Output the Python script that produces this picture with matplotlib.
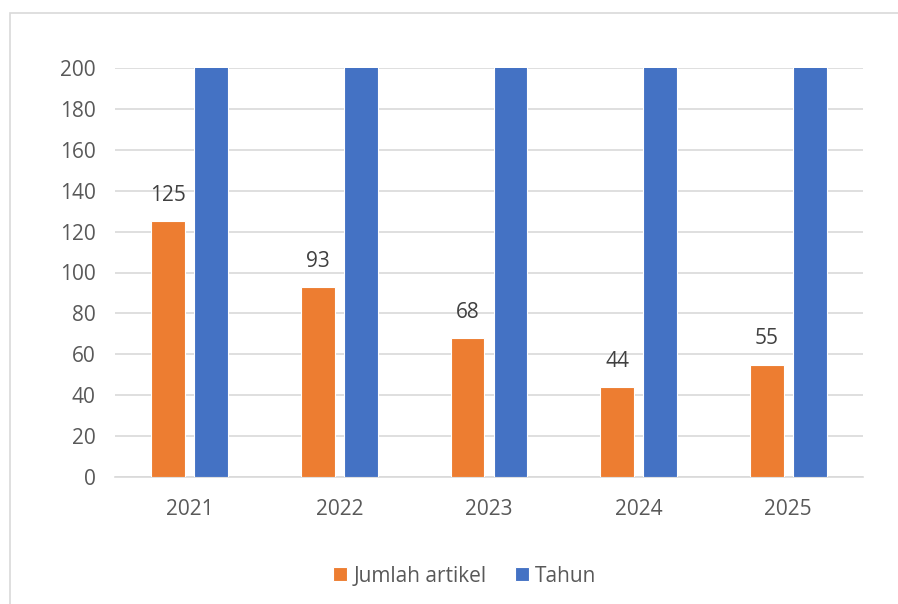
import numpy as np
import matplotlib.pyplot as plt
from matplotlib.patches import Rectangle

years = ["2021", "2022", "2023", "2024", "2025"]
jumlah_artikel = [125, 93, 68, 44, 55]
tahun = [2021, 2022, 2023, 2024, 2025]

orange = "#ED7D31"
blue = "#4472C4"
text_grey = "#595959"
grid_grey = "#D9D9D9"

plt.rcParams['font.family'] = ['Open Sans', 'DejaVu Sans']

fig = plt.figure(figsize=(8.98, 6.04), dpi=100)
ax = fig.add_axes([115 / 898, 1 - 477 / 604, 748 / 898, 409 / 604])

# chart border (cut off on the right and bottom)
fig.patches.append(Rectangle((10 / 898, -0.1), 1.2, 1 - 13 / 604 + 0.1,
                             transform=fig.transFigure, fill=False,
                             edgecolor=grid_grey, linewidth=1.2))

x = np.arange(len(years))
w = 0.225
off = 0.1437
b1 = ax.bar(x - off, jumlah_artikel, w, color=orange, edgecolor="white",
            linewidth=0.8, label="Jumlah artikel", zorder=3)
b2 = ax.bar(x + off, tahun, w, color=blue, edgecolor="white",
            linewidth=0.8, label="Tahun", zorder=3)

for rect, v in zip(b1, jumlah_artikel):
    ax.annotate(str(v), (rect.get_x() + rect.get_width() / 2, v),
                xytext=(0, 11), textcoords="offset points", ha="center",
                va="bottom", fontsize=15, color="#404040")

ax.set_xlim(-0.5, len(years) - 0.5)
ax.set_ylim(0, 200)
ax.set_yticks(np.arange(0, 201, 20))
ax.set_xticks(x)
ax.set_xticklabels(years)
ax.yaxis.grid(True, color=grid_grey, linewidth=1.2, zorder=0)
ax.set_axisbelow(True)
for s in ["top", "right", "left"]:
    ax.spines[s].set_visible(False)
ax.spines["bottom"].set_color(grid_grey)
ax.spines["bottom"].set_linewidth(1.2)
ax.tick_params(axis="both", length=0, labelsize=15, colors=text_grey)
ax.tick_params(axis="x", pad=16)
ax.tick_params(axis="y", pad=14)

fig.legend(handles=[b1, b2], loc="center", bbox_to_anchor=(465 / 898, 1 - 576 / 604),
           ncol=2, frameon=False, fontsize=15, labelcolor=text_grey,
           handlelength=0.65, handleheight=0.65, handletextpad=0.3, columnspacing=1.4)

fig.savefig("out.png", dpi=100)
